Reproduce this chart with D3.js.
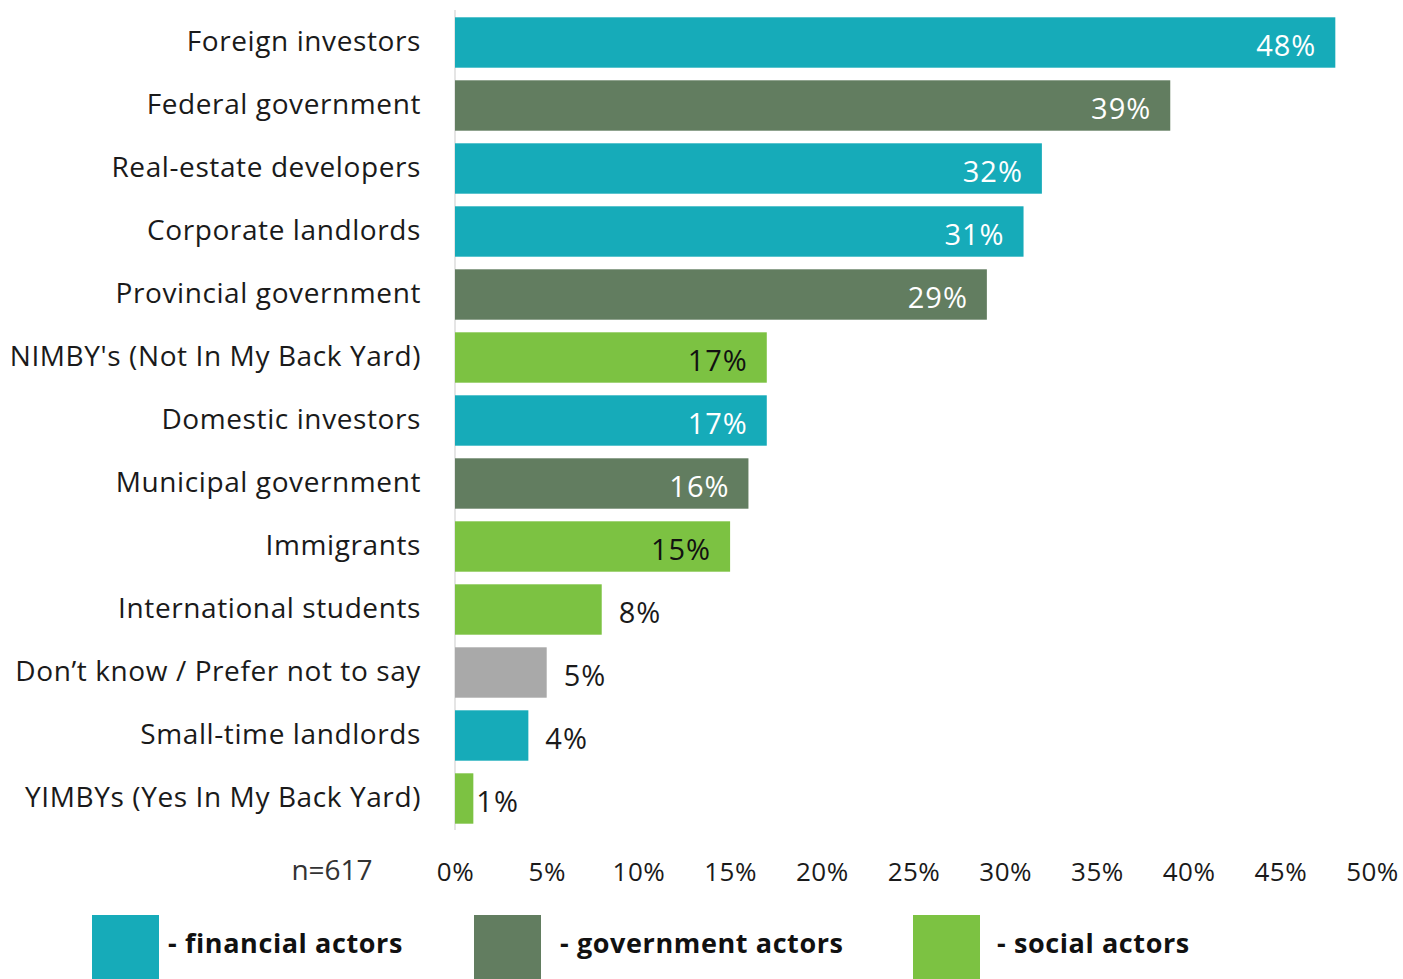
<!DOCTYPE html>
<html>
<head>
<meta charset="utf-8">
<script src="https://cdn.jsdelivr.net/npm/d3@7"></script>
<style>
  html, body { margin: 0; padding: 0; background: #fff; }
  svg { display: block; font-family: "Open Sans", "Noto Sans", sans-serif; }
</style>
</head>
<body>
<svg id="chart" width="1403" height="979"></svg>
<script>
// Survey responses: who is responsible for the housing crisis
const categories = [
  "Foreign investors",
  "Federal government",
  "Real-estate developers",
  "Corporate landlords",
  "Provincial government",
  "NIMBY's (Not In My Back Yard)",
  "Domestic investors",
  "Municipal government",
  "Immigrants",
  "International students",
  "Don\u2019t know / Prefer not to say",
  "Small-time landlords",
  "YIMBYs (Yes In My Back Yard)"
];
const values = [48, 39, 32, 31, 29, 17, 17, 16, 15, 8, 5, 4, 1];
const groups = [
  "financial", "government", "financial", "financial", "government",
  "social", "financial", "government", "social", "social",
  "none", "financial", "social"
];
const tickValues = [0, 5, 10, 15, 20, 25, 30, 35, 40, 45, 50];
const legendKeys = ["financial", "government", "social"];
const legendLabels = ["- financial actors", "- government actors", "- social actors"];
const sampleNote = "n=617";

const colors = {
  financial: "#16abb9",
  government: "#627d60",
  social: "#7cc242",
  none: "#a9a9a9"
};
const labelColors = {
  financial: "#ffffff",
  government: "#ffffff",
  social: "#111111",
  none: "#111111"
};

const svg = d3.select("#chart");

const x = d3.scaleLinear().domain([0, 50]).range([455, 1372]);
const y = d3.scaleBand()
  .domain(categories)
  .range([11, 830])
  .paddingInner(0.2)
  .paddingOuter(0.1);

// Vertical baseline
svg.append("line")
  .attr("x1", x(0)).attr("x2", x(0))
  .attr("y1", 10).attr("y2", 830)
  .attr("stroke", "#dcdcdc")
  .attr("stroke-width", 1.5);

const rows = svg.append("g").selectAll("g")
  .data(categories.map((c, i) => ({ c, v: values[i], g: groups[i] })))
  .join("g");

rows.append("rect")
  .attr("x", x(0))
  .attr("y", d => y(d.c))
  .attr("width", d => x(d.v) - x(0))
  .attr("height", y.bandwidth())
  .attr("fill", d => colors[d.g]);

// Category names to the left of the axis
rows.append("text")
  .attr("x", 421)
  .attr("y", d => y(d.c) + y.bandwidth() / 2 - 1)
  .attr("dy", "0.35em")
  .attr("text-anchor", "end")
  .attr("font-size", 28)
  .attr("letter-spacing", 0.6)
  .attr("fill", "#1a1a1a")
  .text(d => d.c);

// Value labels: inside long bars, just past the end of short ones
const inside = d => d.v >= 15;
rows.append("text")
  .attr("x", d => inside(d) ? x(d.v) - 19 : x(d.v) + (d.v < 2 ? 3 : 17))
  .attr("y", d => y(d.c) + y.bandwidth() / 2 + 3)
  .attr("dy", "0.35em")
  .attr("text-anchor", d => inside(d) ? "end" : "start")
  .attr("font-size", 29)
  .attr("letter-spacing", 1)
  .attr("fill", d => inside(d) ? labelColors[d.g] : "#1a1a1a")
  .text(d => d.v + "%");

// Bottom axis
const axis = d3.axisBottom(x)
  .tickValues(tickValues)
  .tickFormat(d => d + "%")
  .tickSize(0)
  .tickPadding(0);
const axisG = svg.append("g")
  .attr("transform", "translate(0,863)")
  .call(axis);
axisG.select(".domain").remove();
axisG.selectAll("text")
  .attr("font-size", 26)
  .attr("letter-spacing", 0.5)
  .attr("fill", "#1a1a1a")
  .attr("font-family", "\"Open Sans\", \"Noto Sans\", sans-serif");

svg.append("text")
  .attr("x", 332)
  .attr("y", 880)
  .attr("text-anchor", "middle")
  .attr("font-size", 28)
  .attr("fill", "#333")
  .text(sampleNote);

// Legend: swatch followed by its label
const legendX = [92, 474, 913];
const legendTextGap = [76, 86, 84];
const legend = svg.append("g").selectAll("g")
  .data(legendKeys)
  .join("g")
  .attr("transform", (d, i) => `translate(${legendX[i]},915)`);
legend.append("rect")
  .attr("width", 67)
  .attr("height", 64)
  .attr("fill", d => colors[d]);
legend.append("text")
  .attr("x", (d, i) => legendTextGap[i])
  .attr("y", 29)
  .attr("dy", "0.35em")
  .attr("font-size", 27)
  .attr("font-weight", "bold")
  .attr("letter-spacing", 0.6)
  .attr("fill", "#111")
  .text((d, i) => legendLabels[i]);
</script>
</body>
</html>
